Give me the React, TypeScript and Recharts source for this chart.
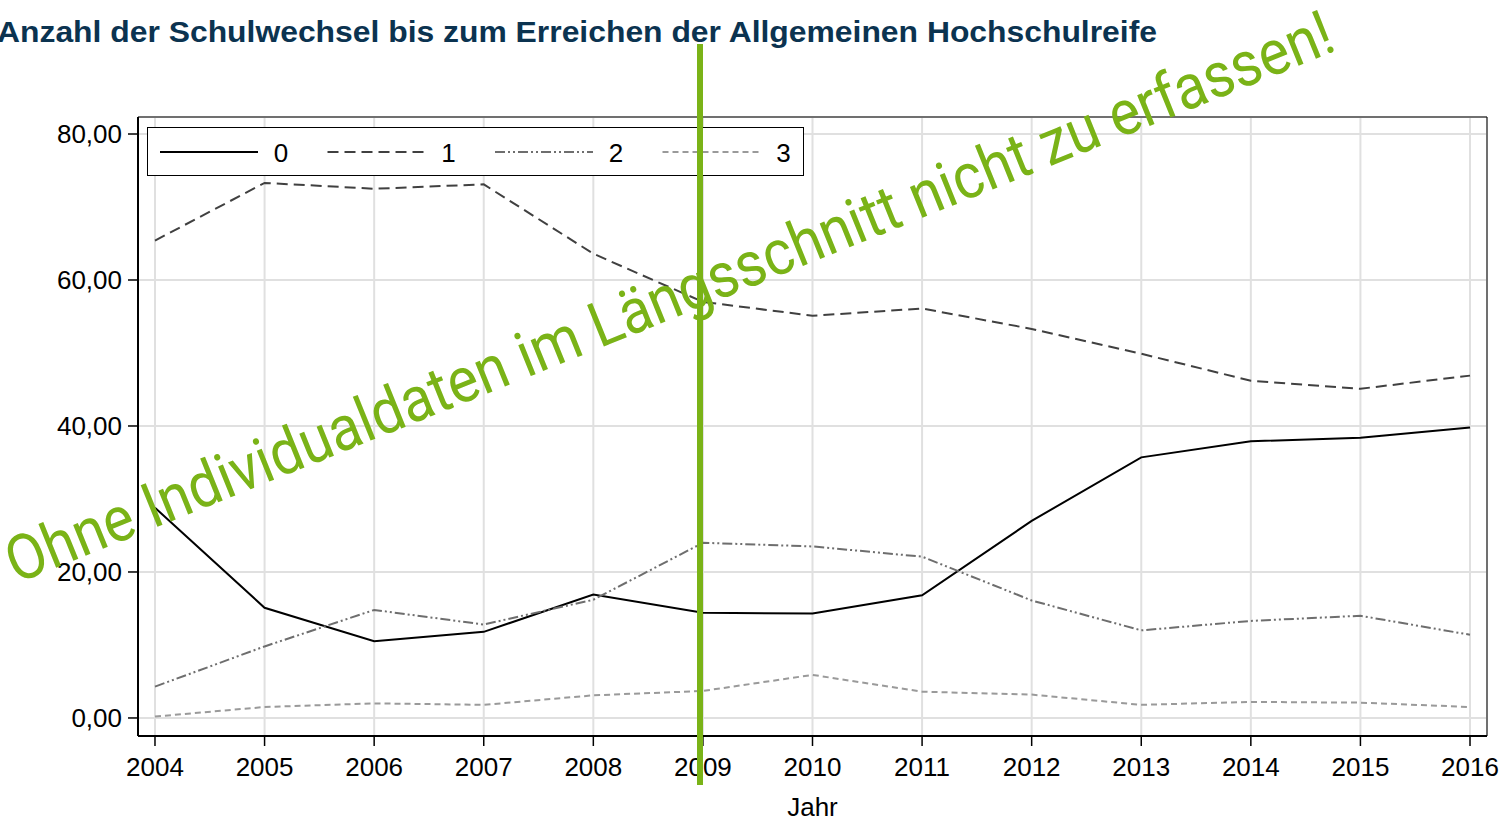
import { LineChart, Line, XAxis, YAxis, CartesianGrid, Legend, ReferenceArea } from "recharts";

const years = [2004, 2005, 2006, 2007, 2008, 2009, 2010, 2011, 2012, 2013, 2014, 2015, 2016];
const wechsel0 = [28.8, 15.1, 10.5, 11.8, 16.9, 14.4, 14.3, 16.8, 27.0, 35.7, 37.9, 38.4, 39.8];
const wechsel1 = [65.4, 73.3, 72.5, 73.1, 63.6, 57.0, 55.1, 56.1, 53.3, 49.9, 46.2, 45.1, 46.9];
const wechsel2 = [4.3, 9.8, 14.8, 12.8, 16.2, 24.0, 23.5, 22.1, 16.1, 12.0, 13.3, 14.0, 11.4];
const wechsel3 = [0.2, 1.5, 2.0, 1.8, 3.1, 3.7, 5.9, 3.6, 3.2, 1.8, 2.2, 2.1, 1.5];
const yTicks = [0, 20, 40, 60, 80];
const seriesNames = ["0", "1", "2", "3"];

const data = years.map((year, i) => ({
  year,
  s0: wechsel0[i],
  s1: wechsel1[i],
  s2: wechsel2[i],
  s3: wechsel3[i],
}));

const X_DOMAIN: [number, number] = [2003.845, 2016.155];
const Y_DOMAIN: [number, number] = [-2.47, 82.33];
const FONT = "'Liberation Sans', Arial, sans-serif";
const GREEN = "#7ab317";

const styles = [
  { key: "s0", stroke: "#000000", dash: undefined },
  { key: "s1", stroke: "#404040", dash: "11 6" },
  { key: "s2", stroke: "#6e6e6e", dash: "10 3 2 3 2 3" },
  { key: "s3", stroke: "#9a9a9a", dash: "6 4" },
];

const fmt = (v: number) => v.toFixed(2).replace(".", ",");

function LegendBox() {
  return (
    <svg width={657} height={49} style={{ display: "block" }}>
      <rect x={0.5} y={0.5} width={656} height={48} fill="#fff" stroke="#000" strokeWidth={1} />
      {styles.map((s, i) => {
        const x0 = 13 + i * 167.5;
        return (
          <g key={s.key}>
            <line
              x1={x0}
              x2={x0 + 98}
              y1={25}
              y2={25}
              stroke={s.stroke}
              strokeWidth={2}
              strokeDasharray={s.dash}
            />
            <text x={x0 + 121} y={26} dy="0.355em" textAnchor="middle" fontSize={26} fontFamily={FONT} fill="#000">
              {seriesNames[i]}
            </text>
          </g>
        );
      })}
    </svg>
  );
}

export default function App() {
  return (
    <div style={{ position: "absolute", left: 0, top: 0, width: 1503, height: 820, background: "#fff" }}>
      <LineChart
        width={1503}
        height={820}
        data={data}
        margin={{ top: 117, right: 16, left: 0, bottom: 0 }}
        style={{ fontFamily: FONT }}
      >
        <CartesianGrid stroke="#e0e0e0" strokeWidth={2} />
        <XAxis
          dataKey="year"
          type="number"
          domain={X_DOMAIN}
          ticks={years}
          height={84}
          tickSize={10}
          tickMargin={12}
          tick={{ fontSize: 26, fill: "#000" }}
          axisLine={{ stroke: "#000", strokeWidth: 2 }}
          tickLine={{ stroke: "#000", strokeWidth: 1.5 }}
          allowDataOverflow
          label={{ value: "Jahr", position: "insideBottom", offset: 4, fontSize: 26, fill: "#000" }}
        />
        <YAxis
          type="number"
          domain={Y_DOMAIN}
          ticks={yTicks}
          width={138}
          tickSize={10}
          tickMargin={6}
          tickFormatter={fmt}
          tick={{ fontSize: 26, fill: "#000" }}
          axisLine={{ stroke: "#000", strokeWidth: 2 }}
          tickLine={{ stroke: "#000", strokeWidth: 1.5 }}
          allowDataOverflow
        />
        <ReferenceArea
          x1={X_DOMAIN[0]}
          x2={X_DOMAIN[1]}
          y1={Y_DOMAIN[0]}
          y2={Y_DOMAIN[1]}
          fill="none"
          fillOpacity={0}
          stroke="#000"
          strokeWidth={1}
        />
        {styles.map((s, i) => (
          <Line
            key={s.key}
            dataKey={s.key}
            name={seriesNames[i]}
            type="linear"
            stroke={s.stroke}
            strokeWidth={2}
            strokeDasharray={s.dash}
            dot={false}
            activeDot={false}
            isAnimationActive={false}
          />
        ))}
        <Legend
          layout="vertical"
          verticalAlign="middle"
          align="center"
          content={() => <LegendBox />}
          wrapperStyle={{ top: 127, left: 147, width: 657, height: 49 }}
        />
      </LineChart>
      <svg
        width={1503}
        height={820}
        style={{ position: "absolute", left: 0, top: 0, pointerEvents: "none" }}
      >
        <text
          x={-3}
          y={42}
          fontFamily={FONT}
          fontWeight="bold"
          fontSize={29}
          fill="#0b3350"
          textLength={1160}
          lengthAdjust="spacingAndGlyphs"
        >
          Anzahl der Schulwechsel bis zum Erreichen der Allgemeinen Hochschulreife
        </text>
        <line x1={700} x2={700} y1={44} y2={785} stroke={GREEN} strokeWidth={6} />
        <text
          transform="translate(16,584) rotate(-22)"
          x={0}
          y={0}
          fontFamily="Roboto, 'Noto Sans', sans-serif"
          fontSize={63}
          fill={GREEN}
          textLength={1426}
          lengthAdjust="spacingAndGlyphs"
        >
          Ohne Individualdaten im Längsschnitt nicht zu erfassen!
        </text>
      </svg>
    </div>
  );
}
